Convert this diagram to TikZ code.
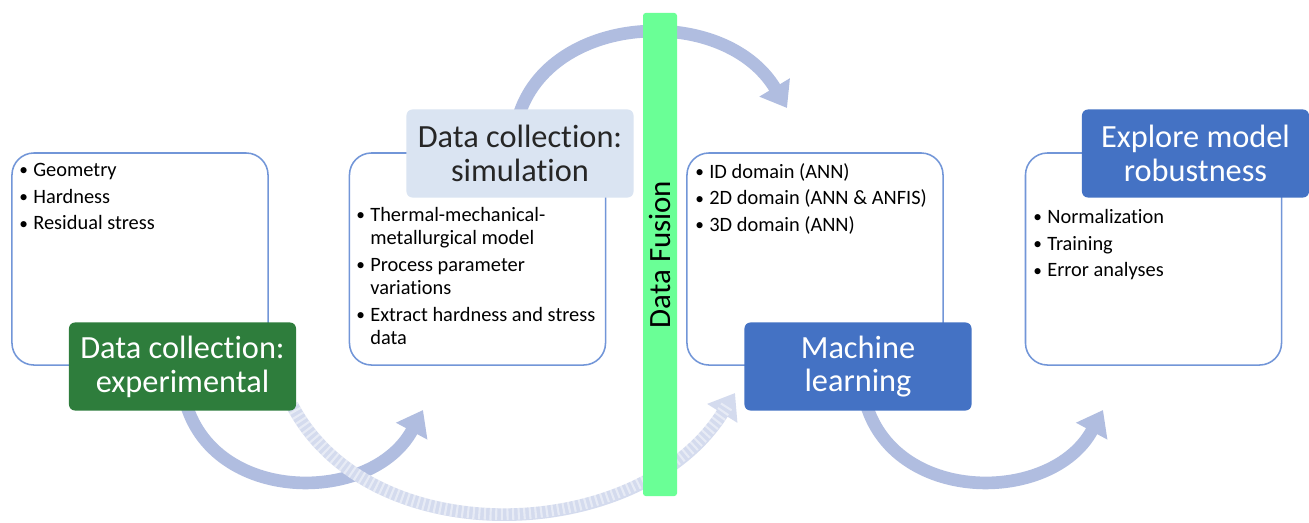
\documentclass[tikz,border=0pt]{standalone}
\usepackage{fontspec}
\setmainfont{Carlito}[Ligatures=NoCommon]
\usetikzlibrary{arrows.meta}

\definecolor{flow}{RGB}{176,189,224}
\definecolor{frame}{RGB}{114,150,216}
\definecolor{expgreen}{RGB}{46,125,60}
\definecolor{simblue}{RGB}{218,228,242}
\definecolor{mlblue}{RGB}{68,114,196}
\definecolor{fusion}{RGB}{106,255,150}

% bullet item and its hanging continuation line
\newcommand{\bitem}[1]{\makebox[10pt][l]{\raisebox{0.5pt}{\scalebox{0.85}{\textbullet}}}#1}
\newcommand{\bcont}[1]{\hspace*{10pt}#1}

\tikzset{
  panel/.style={draw=frame, line width=1.1pt, rounded corners=0.55cm, fill=white,
    minimum width=6.4cm, minimum height=5.3cm, inner sep=0pt},
  title/.style={rounded corners=0.15cm, minimum width=5.675cm, minimum height=2.2cm,
    align=center, inner sep=0pt, font=\fontsize{23pt}{24pt}\selectfont},
  bullets/.style={anchor=north west, align=left, inner sep=0pt,
    font=\fontsize{14.5pt}{16.4pt}\selectfont},
  flowarrow/.style={draw=flow, line width=9pt, -{Triangle[length=0.6cm,width=0.85cm]}},
  fadedarrow/.style={draw=flow!55, line width=9pt, -{Triangle[length=0.6cm,width=0.85cm]}},
  stripes/.style={draw=white, opacity=0.45, line width=9pt, dash pattern=on 1.5pt off 2.5pt,
    shorten >=0.35cm},
}

\begin{document}
\begin{tikzpicture}[x=0.025cm, y=-0.025cm]
  \fill[white] (0,0) rectangle (1309,522);
  \useasboundingbox (0,0) rectangle (1309,522);

  % curved flow arrows (behind the boxes)
  \coordinate (a1s) at (185,400);
  \coordinate (a1e) at (423,410);
  \coordinate (a2s) at (520,112);
  \coordinate (a2e) at (787,108);
  \coordinate (a3s) at (292,405);
  \coordinate (a3e) at (735,393);
  \coordinate (a4s) at (865,400);
  \coordinate (a4e) at (1103,410);

  \draw[flowarrow] (a1s) .. controls (212,505) and (372,505) .. (a1e);
  \draw[fadedarrow] (a3s) .. controls (370,555) and (640,545) .. (a3e);
  \draw[stripes] (a3s) .. controls (370,555) and (640,545) .. (a3e);
  \draw[flowarrow] (a2s) .. controls (555,12) and (725,5) .. (a2e);
  \draw[flowarrow] (a4s) .. controls (892,505) and (1052,505) .. (a4e);

  % content panels
  \node[panel] (p1) at (140,259) {};
  \node[panel] (p2) at (477.5,259) {};
  \node[panel] (p3) at (815,259) {};
  \node[panel] (p4) at (1153.5,259) {};

  \node[bullets] (l1) at (19,163)
    {\bitem{Geometry}\\[2.6pt]\bitem{Hardness}\\[2.6pt]\bitem{Residual stress}};
  \node[bullets] (l2) at (356,207)
    {\bitem{Thermal-mechanical-}\\\bcont{metallurgical model}\\[2.6pt]%
     \bitem{Process parameter}\\\bcont{variations}\\[2.6pt]%
     \bitem{Extract hardness and stress}\\\bcont{data}};
  \node[bullets] (l3) at (695,163)
    {\bitem{ID domain (ANN)}\\[2.6pt]\bitem{2D domain (ANN \& ANFIS)}\\[2.6pt]\bitem{3D domain (ANN)}};
  \node[bullets] (l4) at (1033,209)
    {\bitem{Normalization}\\[2.6pt]\bitem{Training}\\[2.6pt]\bitem{Error analyses}};

  % stage titles
  \node[title, fill=expgreen, text=white] (t1) at (182.5,366.5) {Data collection:\\experimental};
  \node[title, fill=simblue, text=black!85] (t2) at (520,153.5) {Data collection:\\simulation};
  \node[title, fill=mlblue, text=white] (t3) at (858,366.5) {Machine\\learning};
  \node[title, fill=mlblue, text=white] (t4) at (1195.5,153.5) {Explore model\\robustness};

  % data fusion bar
  \node[fill=fusion, rounded corners=2pt, rotate=90, minimum width=12.075cm,
        minimum height=0.85cm, inner sep=0pt, font=\fontsize{22pt}{24pt}\selectfont]
        (fus) at (660,254.5) {Data Fusion};
\end{tikzpicture}
\end{document}
